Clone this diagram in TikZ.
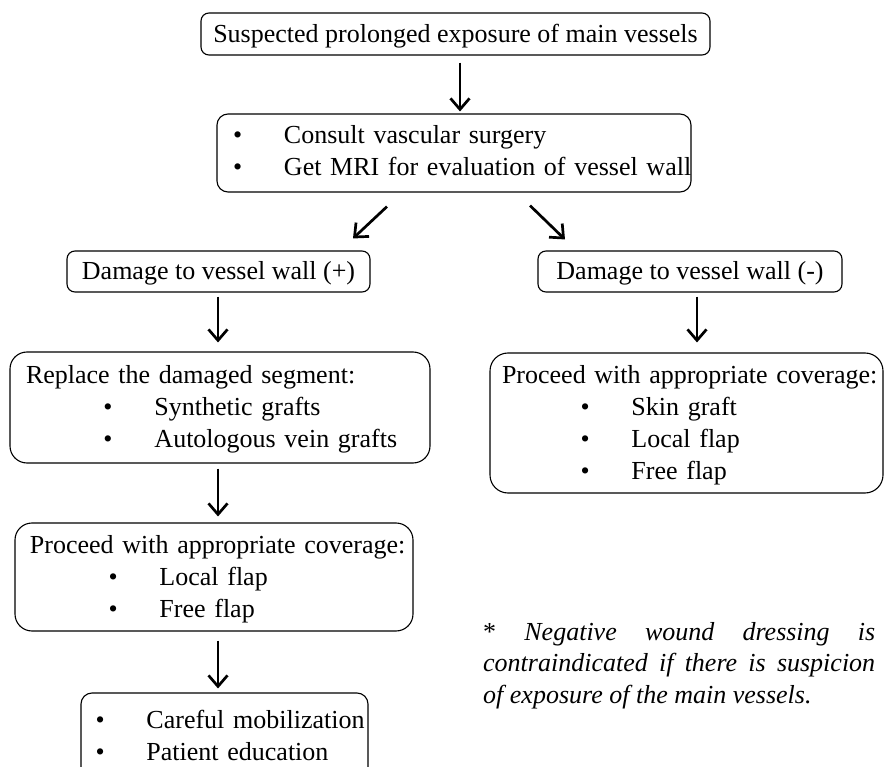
\documentclass[tikz,border=0pt]{standalone}
\usepackage{fontspec}
\setmainfont{Liberation Serif}
\usetikzlibrary{arrows.meta}
\newcommand{\bitem}[2]{\mbox{\hspace*{#1}\makebox[51pt][l]{\textbullet}#2}}
\tikzset{
  every node/.style={font=\fontsize{26}{32}\selectfont},
  box/.style={draw, line width=1.1pt, rounded corners=#1, inner ysep=0pt, text height=24pt},
  arr/.style={line width=2.7pt, -{Straight Barb[length=11pt,width=19pt]}},
}
\begin{document}
\begin{tikzpicture}[x=1pt,y=-1pt]
\useasboundingbox (0,0) rectangle (884,767);

\node[box=8pt, minimum width=509pt, minimum height=42pt, inner xsep=0pt, text depth=7pt] (b1) at (455.5,34)
  {Suspected prolonged exposure of main vessels};

\node[box=11pt, minimum height=78pt, inner xsep=16pt, text width=442pt, align=left, text height=21pt, text depth=39pt] (b2) at (454,153)
  {\bitem{0pt}{Consult vascular surgery}\\
   \bitem{0pt}{Get MRI for evaluation of vessel wall}};

\node[box=8pt, minimum width=303pt, minimum height=41pt, inner xsep=0pt, text depth=7pt] (b3) at (218.5,271.5)
  {Damage to vessel wall (+)};

\node[box=8pt, minimum width=304pt, minimum height=41pt, inner xsep=0pt, text depth=7pt] (b4) at (690,271.5)
  {Damage to vessel wall (-)};

\node[box=17pt, minimum height=111pt, inner xsep=16pt, text width=388pt, align=left, text depth=71pt] (b5) at (220,407.5)
  {\mbox{Replace the damaged segment:}\\
   \bitem{77.5pt}{Synthetic grafts}\\
   \bitem{77.5pt}{Autologous vein grafts}};

\node[box=18pt, minimum height=140pt, inner xsep=12pt, text width=369pt, align=left, text depth=103pt] (b6) at (686.5,423)
  {\mbox{Proceed with appropriate coverage:}\\
   \bitem{78.5pt}{Skin graft}\\
   \bitem{78.5pt}{Local flap}\\
   \bitem{78.5pt}{Free flap}};

\node[box=17pt, minimum height=108pt, inner xsep=15pt, text width=368pt, align=left, text depth=71pt] (b7) at (214,577)
  {\mbox{Proceed with appropriate coverage:}\\
   \bitem{78.5pt}{Local flap}\\
   \bitem{78.5pt}{Free flap}};

\node[box=11pt, minimum height=85pt, inner xsep=14.5pt, text width=258pt, align=left, text depth=39pt] (b8) at (224.5,735.5)
  {\bitem{0pt}{Careful mobilization}\\
   \bitem{0pt}{Patient education}};

\node[anchor=base west, inner sep=0pt, text width=392pt, align=justify,
      font=\fontsize{26}{31.5}\selectfont\itshape] (note) at (483,640)
  {\hyphenpenalty=10000\exhyphenpenalty=10000{\upshape *} Negative wound dressing is\linebreak
   contraindicated if there is suspicion\linebreak of exposure of the main vessels.};

\draw[arr] ([xshift=4.5pt,yshift=-7pt]b1.south) -- ([xshift=6pt,yshift=2pt]b2.north);
\draw[arr] ([xshift=-67pt,yshift=-14pt]b2.south) -- ([xshift=134.5pt,yshift=12pt]b3.north);
\draw[arr] ([xshift=76pt,yshift=-13pt]b2.south) -- ([xshift=-125pt,yshift=11pt]b4.north);
\draw[arr] ([xshift=-0.5pt,yshift=-4pt]b3.south) -- ([xshift=-2pt,yshift=9pt]b5.north);
\draw[arr] ([xshift=7pt,yshift=-4pt]b4.south) -- ([xshift=10.5pt,yshift=10pt]b6.north);
\draw[arr] ([xshift=-2pt,yshift=-5pt]b5.south) -- ([xshift=4pt,yshift=6pt]b7.north);
\draw[arr] ([xshift=4pt,yshift=-9pt]b7.south) -- ([xshift=-6.5pt,yshift=4pt]b8.north);
\end{tikzpicture}
\end{document}
